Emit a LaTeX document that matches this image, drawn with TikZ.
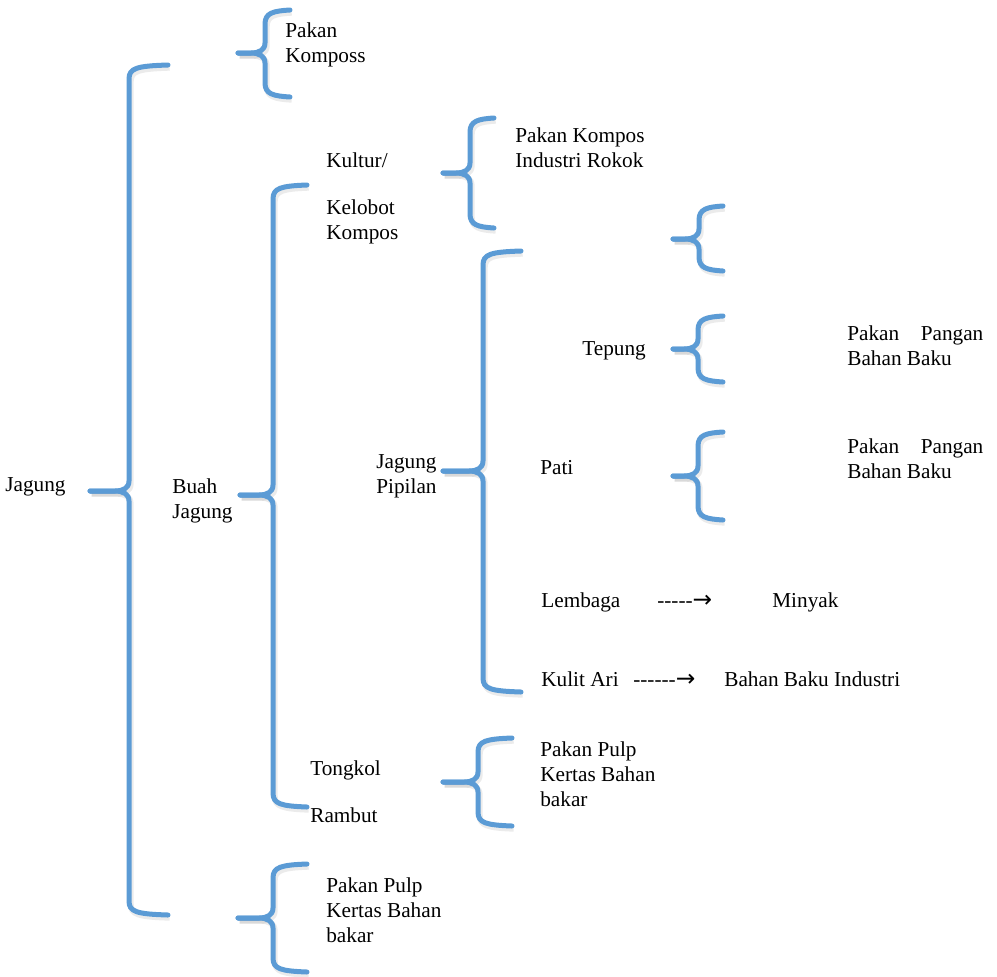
\documentclass[tikz,border=0pt]{standalone}
\usepackage{fontspec}
\setmainfont{Liberation Serif}
\newfontfamily\arrowfont{DejaVu Sans}
\usetikzlibrary{calc}
\definecolor{bracecol}{HTML}{5B9BD5}
\tikzset{brc/.style={draw=bracecol, line width=3pt, line cap=round, line join=round,
    preaction={draw=black, opacity=0.08, line width=3.6pt, transform canvas={shift={(1pt,-1.6pt)}}}},
  lbl/.style={anchor=base west, inner sep=0pt, align=left}}
% left brace: tip x, tip y, stem x, top y, bottom y, arm x
\newcommand\lbrc[6]{%
  \draw[brc] (#6,#4) .. controls (#3+8,#4+1) and (#3,#4+3) .. (#3,#4+14)
    -- (#3,#2-10) .. controls (#3,#2-3) and (#3-6,#2) .. (#3-14,#2) -- (#1,#2);
  \draw[brc] (#6,#5) .. controls (#3+8,#5-1) and (#3,#5-3) .. (#3,#5-14)
    -- (#3,#2+10) .. controls (#3,#2+3) and (#3-6,#2) .. (#3-14,#2) -- (#1,#2);}
\newcommand\dasharr[1]{\foreach \d in {1,...,#1}{-}{\arrowfont\fontsize{14}{15}\selectfont →}}
\begin{document}
\begin{tikzpicture}[x=0.6pt, y=-0.6pt, font=\fontsize{12.75}{15}\selectfont]
  \useasboundingbox (0,0) rectangle (997,976);
  % braces
  \lbrc{90}{491}{129}{65}{915}{168}
  \lbrc{238}{53}{265}{10}{97}{290}
  \lbrc{240}{495}{273}{185}{807}{307}
  \lbrc{443}{173}{470}{118}{228}{494}
  \lbrc{443}{471}{483}{251}{692}{521}
  \lbrc{673}{239}{699}{206}{271}{723}
  \lbrc{673}{349}{698}{316}{382}{723}
  \lbrc{673}{476}{698}{432}{520}{723}
  \lbrc{443}{782}{478}{738}{826}{512}
  \lbrc{238}{918}{273}{864}{972}{307}
  % first level (multi-line: base = last line)
  \node[lbl] (jagung) at (5,491) {Jagung};
  \node[lbl] (pakan-atas) at (285,62) {Pakan\\Komposs};
  \node[lbl] (buah) at (172,518) {Buah\\Jagung};
  \node[lbl] (pakan-bawah) at (326,942) {Pakan Pulp\\Kertas Bahan\\bakar};
  % buah jagung
  \node[lbl] (kultur) at (326,167) {Kultur/};
  \node[lbl] (kelobot) at (326,239) {Kelobot\\Kompos};
  \node[lbl] (kultur-out) at (515,167) {Pakan Kompos\\Industri Rokok};
  \node[lbl] (pipilan) at (376,493) {Jagung\\Pipilan};
  \node[lbl] (tongkol) at (310,775) {Tongkol};
  \node[lbl] (rambut) at (310,822) {Rambut};
  \node[lbl] (tongkol-out) at (540,806) {Pakan Pulp\\Kertas Bahan\\bakar};
  % jagung pipilan
  \node[lbl] (tepung) at (582,355) {Tepung};
  \node[lbl] (tepung-out) at (847,365) {\makebox[81.6pt][s]{Pakan Pangan}\\Bahan Baku};
  \node[lbl] (pati) at (540,474) {Pati};
  \node[lbl] (pati-out) at (847,478) {\makebox[81.6pt][s]{Pakan Pangan}\\Bahan Baku};
  \node[lbl] (lembaga) at (541,607) {Lembaga};
  \node[lbl] (lembaga-arr) at (657,607) {\dasharr{5}};
  \node[lbl] (minyak) at (772,607) {Minyak};
  \node[lbl] (kulit) at (541,686) {Kulit Ari};
  \node[lbl] (kulit-arr) at (633,686) {\dasharr{6}};
  \node[lbl] (industri) at (724,686) {Bahan Baku Industri};
\end{tikzpicture}
\end{document}
